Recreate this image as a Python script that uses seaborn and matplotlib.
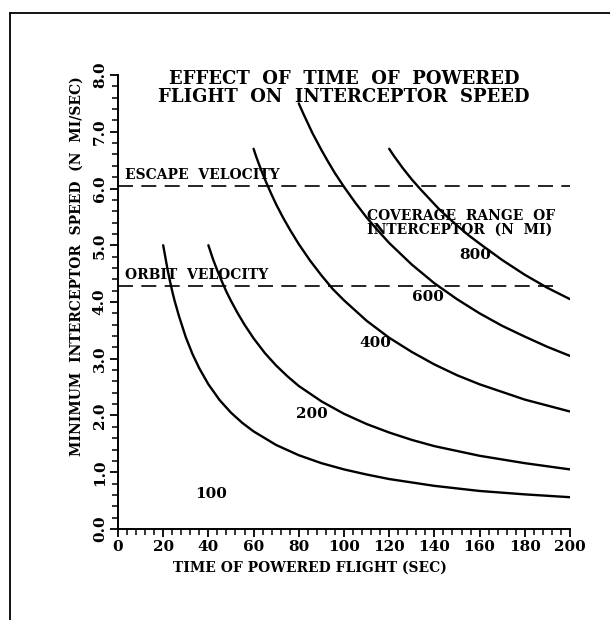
import pandas as pd
import matplotlib.pyplot as plt
import matplotlib.lines as mlines
import seaborn as sns

# valores (tempo em s, velocidade em N MI/SEC)
t_100 = [20, 21, 22, 23, 24, 25, 27, 30, 33, 36, 40, 45, 50, 55, 60, 70, 80,
         90, 100, 110, 120, 140, 160, 180, 200]
v_100 = [5.0, 4.78, 4.56, 4.37, 4.19, 4.03, 3.75, 3.38, 3.08, 2.83, 2.55, 2.27,
         2.05, 1.87, 1.72, 1.48, 1.30, 1.16, 1.05, 0.96, 0.88, 0.76, 0.67, 0.61, 0.56]

t_200 = [40, 41, 42, 44, 46, 48, 50, 53, 56, 60, 65, 70, 75, 80, 90, 100, 110,
         120, 130, 140, 160, 180, 200]
v_200 = [5.0, 4.88, 4.76, 4.55, 4.36, 4.18, 4.02, 3.80, 3.60, 3.36, 3.10, 2.88,
         2.69, 2.52, 2.25, 2.03, 1.85, 1.70, 1.57, 1.46, 1.29, 1.16, 1.05]

t_400 = [60, 61, 62, 64, 66, 68, 70, 73, 76, 80, 85, 90, 95, 100, 110, 120, 130,
         140, 150, 160, 180, 200]
v_400 = [6.7, 6.58, 6.47, 6.26, 6.07, 5.89, 5.72, 5.49, 5.28, 5.02, 4.73, 4.47,
         4.23, 4.03, 3.67, 3.37, 3.12, 2.90, 2.71, 2.55, 2.28, 2.07]

t_600 = [80, 81, 82, 84, 86, 88, 90, 93, 96, 100, 105, 110, 115, 120, 130, 140,
         150, 160, 170, 180, 190, 200]
v_600 = [7.5, 7.41, 7.32, 7.15, 6.98, 6.83, 6.68, 6.47, 6.27, 6.03, 5.75, 5.49,
         5.26, 5.04, 4.66, 4.33, 4.05, 3.80, 3.58, 3.39, 3.21, 3.05]

t_800 = [120, 121, 122, 124, 126, 128, 130, 134, 138, 142, 146, 150, 155, 160,
         170, 180, 190, 200]
v_800 = [6.7, 6.64, 6.58, 6.47, 6.36, 6.26, 6.16, 5.98, 5.81, 5.64, 5.49, 5.35,
         5.18, 5.03, 4.74, 4.48, 4.25, 4.05]

ranges = ["100", "200", "400", "600", "800"]
escape_velocity = 6.05
orbit_velocity = 4.28

# posições das etiquetas das curvas
label_t = [41, 86, 114, 137, 158]
label_v = [0.62, 2.03, 3.28, 4.09, 4.83]

frames = []
for r, t, v in zip(ranges, [t_100, t_200, t_400, t_600, t_800],
                   [v_100, v_200, v_400, v_600, v_800]):
    frames.append(pd.DataFrame({"time": t, "speed": v, "range": r}))
df = pd.concat(frames, ignore_index=True)

sns.set_style("ticks")
plt.rcParams["font.family"] = ["DejaVu Serif"]
plt.rcParams["font.weight"] = "bold"
plt.rcParams["text.color"] = "black"
plt.rcParams["axes.labelcolor"] = "black"
plt.rcParams["xtick.color"] = "black"
plt.rcParams["ytick.color"] = "black"

fig = plt.figure(figsize=(6.1, 6.2), dpi=100)
ax = fig.add_axes([0.1934, 0.1468, 0.741, 0.7322])

sns.lineplot(data=df, x="time", y="speed", hue="range", units="range",
             estimator=None, palette=["black"] * 5, legend=False,
             linewidth=1.7, sort=False, ax=ax)

# linhas de velocidade de escape e de órbita
ax.plot([0, 200], [escape_velocity, escape_velocity], color="black",
        lw=1.2, dashes=(9, 5))
ax.plot([0, 196], [orbit_velocity, orbit_velocity], color="black",
        lw=1.2, dashes=(9, 5))
ax.text(3, escape_velocity + 0.07, "ESCAPE  VELOCITY", fontsize=10,
        fontweight="bold", va="bottom")
ax.text(3, orbit_velocity + 0.07, "ORBIT  VELOCITY", fontsize=10,
        fontweight="bold", va="bottom")

for r, tx, vy in zip(ranges, label_t, label_v):
    ax.text(tx, vy, r, fontsize=11, fontweight="bold", ha="center", va="center")

ax.text(110, 5.4, "COVERAGE  RANGE  OF\nINTERCEPTOR  (N  MI)", fontsize=10,
        fontweight="bold", ha="left", va="center", linespacing=0.95)

ax.text(100, 7.77, "EFFECT  OF  TIME  OF  POWERED\nFLIGHT  ON  INTERCEPTOR  SPEED",
        fontsize=13, fontweight="bold", ha="center", va="center", linespacing=1.0)

ax.set_xlim(0, 200)
ax.set_ylim(0, 8)
ax.set_xticks(range(0, 201, 20))
ax.set_xticks(range(0, 201, 4), minor=True)
ax.set_yticks([i * 1.0 for i in range(9)])
ax.set_yticks([i * 0.2 for i in range(41)], minor=True)
ax.set_yticklabels([f"{i:.1f}" for i in range(9)], rotation=90, va="center")
ax.tick_params(axis="both", which="major", length=6, width=1.3, labelsize=11,
               pad=2, color="black", labelcolor="black")
ax.tick_params(axis="both", which="minor", length=4, width=1.1, color="black")
for lab in ax.get_xticklabels() + ax.get_yticklabels():
    lab.set_fontweight("bold")

ax.set_xlabel("TIME OF POWERED FLIGHT (SEC)", fontsize=10, fontweight="bold")
ax.xaxis.set_label_coords(0.425, -0.07)
ax.set_ylabel("MINIMUM  INTERCEPTOR  SPEED  (N  MI/SEC)", fontsize=10,
              fontweight="bold")
ax.yaxis.set_label_coords(-0.075, 0.58)
sns.despine(ax=ax)
for s in ["left", "bottom"]:
    ax.spines[s].set_linewidth(1.4)
    ax.spines[s].set_color("black")

# moldura da página (apenas topo e esquerda)
fig.add_artist(mlines.Line2D([0.017, 1.0], [0.979, 0.979], color="black", lw=1.3,
                             transform=fig.transFigure))
fig.add_artist(mlines.Line2D([0.017, 0.017], [0.0, 0.979], color="black", lw=1.3,
                             transform=fig.transFigure))

plt.savefig("out.png", dpi=100)
plt.close()
